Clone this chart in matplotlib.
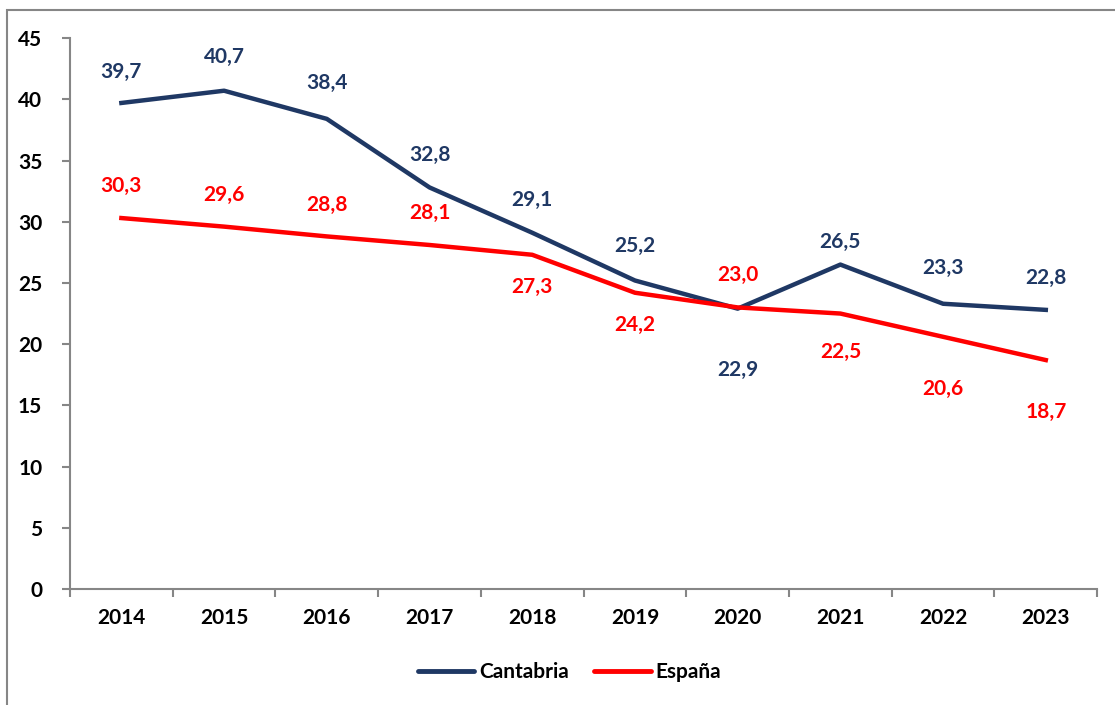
import matplotlib
matplotlib.use("Agg")
import matplotlib.pyplot as plt
from matplotlib.patches import Rectangle

W = 'bold'
plt.rcParams['font.family'] = ['Lato', 'DejaVu Sans']
plt.rcParams['font.weight'] = W

years = ['2014', '2015', '2016', '2017', '2018', '2019', '2020', '2021', '2022', '2023']
cantabria = [39.7, 40.7, 38.4, 32.8, 29.1, 25.2, 22.9, 26.5, 23.3, 22.8]
espana = [30.3, 29.6, 28.8, 28.1, 27.3, 24.2, 23.0, 22.5, 20.6, 18.7]

# label offsets in pixels (dx, dy)
off_cant = [(0, 31), (0, 34), (0, 36), (0, 32), (0, 33), (0, 35), (0, -61), (0, 23), (0, 36), (0, 32)]
off_esp = [(0, 32), (0, 32), (0, 31), (0, 32), (0, -32), (0, -32), (0, 32), (0, -38), (0, -52), (0, -52)]

navy = '#1F3864'
red = '#FF0000'
grey = '#868686'

fig = plt.figure(figsize=(11.15, 7.05), dpi=100)
ax = fig.add_axes([0.0628, 0.1645, 0.9212, 0.7815])

x = list(range(len(years)))
ax.plot(x, cantabria, color=navy, lw=3.2, label='Cantabria', solid_joinstyle='round')
ax.plot(x, espana, color=red, lw=3.2, label='España', solid_joinstyle='round')

def fmt(v):
    return f'{v:.1f}'.replace('.', ',')

for i in x:
    ax.annotate(fmt(cantabria[i]), (i, cantabria[i]), xytext=off_cant[i], textcoords='offset pixels',
                ha='center', va='center', color=navy, fontsize=15, fontweight=W)
    ax.annotate(fmt(espana[i]), (i, espana[i]), xytext=off_esp[i], textcoords='offset pixels',
                ha='center', va='center', color=red, fontsize=15, fontweight=W)

ax.set_xlim(-0.5, len(years) - 0.5)
ax.set_ylim(0, 45)
ax.set_yticks(range(0, 50, 5))
ax.set_xticks(x)
ax.set_xticklabels(years)
ax.set_xticks([i - 0.5 for i in range(len(years) + 1)], minor=True)
ax.tick_params(axis='x', which='major', length=0, pad=14, labelsize=15)
ax.tick_params(axis='x', which='minor', length=6, color=grey, width=1.5)
ax.tick_params(axis='y', length=6, color=grey, width=1.5, labelsize=15, pad=14)
for lab in ax.get_xticklabels() + ax.get_yticklabels():
    lab.set_fontweight(W)

for s in ['top', 'right']:
    ax.spines[s].set_visible(False)
for s in ['left', 'bottom']:
    ax.spines[s].set_color(grey)
    ax.spines[s].set_linewidth(1.5)

leg = fig.legend(loc='center', bbox_to_anchor=(0.511, 0.047), ncol=2, frameon=False,
                 prop={'weight': W, 'size': 15}, handlelength=2.7, columnspacing=1.2,
                 handletextpad=0.25)
for h in leg.get_lines():
    h.set_linewidth(3.5)
    h.set_solid_capstyle('round')

# outer chart frame
fig.patches.append(Rectangle((7 / 1115, -0.05), 1.1, 1.05 - 10 / 705,
                             transform=fig.transFigure, fill=False, edgecolor=grey, lw=1.5))

fig.savefig('out.png', dpi=100)
